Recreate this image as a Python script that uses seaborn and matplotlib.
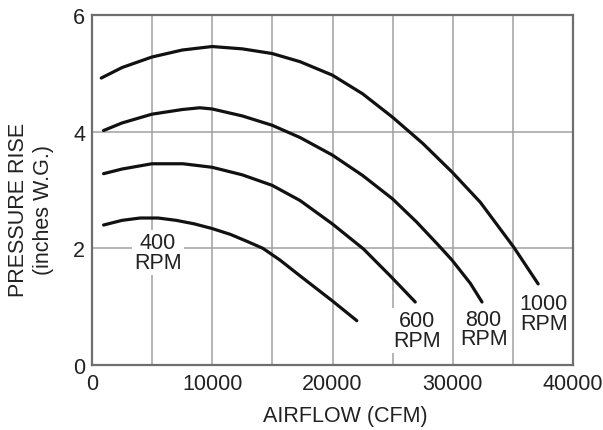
import numpy as np
import pandas as pd
import matplotlib
matplotlib.use('Agg')
import matplotlib.pyplot as plt
import seaborn as sns

# ---- fan curves (airflow CFM, pressure in. W.G.) ----
rpm_1000_x = [770, 2500, 4980, 7500, 9980, 12500, 14980, 17300, 19980, 22500,
              24980, 27500, 29930, 32290, 35070, 37100]
rpm_1000_y = [4.92, 5.10, 5.28, 5.40, 5.46, 5.42, 5.34, 5.20, 4.97, 4.65,
              4.25, 3.80, 3.31, 2.79, 2.02, 1.39]

rpm_800_x = [960, 2500, 4980, 7500, 8960, 9980, 12500, 14980, 17300, 19980,
             22500, 24980, 27000, 28960, 29930, 31460, 32430]
rpm_800_y = [4.02, 4.15, 4.30, 4.38, 4.41, 4.39, 4.27, 4.11, 3.90, 3.60,
             3.25, 2.85, 2.45, 2.02, 1.80, 1.40, 1.08]

rpm_600_x = [960, 2500, 4980, 7570, 9980, 12500, 14980, 17300, 19980, 22570,
             24790, 26880]
rpm_600_y = [3.28, 3.36, 3.45, 3.45, 3.39, 3.26, 3.08, 2.82, 2.42, 1.99,
             1.53, 1.08]

rpm_400_x = [960, 2500, 4000, 5500, 7000, 8500, 9980, 11500, 13000, 14210,
             15625, 17290, 19980, 22020]
rpm_400_y = [2.40, 2.48, 2.52, 2.52, 2.48, 2.42, 2.34, 2.24, 2.11, 2.00,
             1.80, 1.53, 1.10, 0.76]

speeds = ['400', '600', '800', '1000']
label_x = [5480, 27000, 32570, 37570]
label_y = [1.93, 0.59, 0.62, 0.88]

curves = {'400': (rpm_400_x, rpm_400_y), '600': (rpm_600_x, rpm_600_y),
          '800': (rpm_800_x, rpm_800_y), '1000': (rpm_1000_x, rpm_1000_y)}
df = pd.concat([pd.DataFrame({'airflow': x, 'pressure': y, 'rpm': k})
                for k, (x, y) in curves.items()], ignore_index=True)

sns.set_theme(style='white')
plt.rcParams['font.family'] = ['Liberation Sans', 'DejaVu Sans']

fig = plt.figure(figsize=(6.03, 4.31), dpi=100)
ax = fig.add_axes([0.1526, 0.1508, 0.7977, 0.8120])

sns.lineplot(data=df, x='airflow', y='pressure', units='rpm', estimator=None,
             sort=False, color='#111111', linewidth=2.3, ax=ax, zorder=3,
             solid_joinstyle='round', solid_capstyle='round')

for s, lx, ly in zip(speeds, label_x, label_y):
    ax.text(lx, ly, f'{s}\nRPM', ha='center', va='center', fontsize=15.5,
            color='#222222', linespacing=0.9, zorder=4,
            bbox=dict(facecolor='white', edgecolor='none', pad=1.5))

ax.set_xlim(0, 40000)
ax.set_ylim(0, 6)
ax.set_xticks(range(0, 40001, 10000))
ax.set_xticks(range(5000, 40000, 10000), minor=True)
ax.set_yticks([0, 2, 4, 6])
ax.grid(True, which='both', color='#a0a0a0', linewidth=1.1, zorder=0)
ax.set_axisbelow(True)
for sp in ax.spines.values():
    sp.set_color('#6e6e6e')
    sp.set_linewidth(1.6)
ax.tick_params(which='both', length=0, labelsize=15.5, labelcolor='#222222')
ax.tick_params(axis='x', pad=6)
ax.tick_params(axis='y', pad=5)

ax.set_xlabel('AIRFLOW (CFM)', fontsize=15.5, color='#222222')
ax.set_ylabel('PRESSURE RISE\n(inches W.G.)', fontsize=15.5, color='#222222',
              linespacing=1.25)
ax.xaxis.set_label_coords(0.526, -0.115)
ax.yaxis.set_label_coords(-0.079, 0.446)

fig.savefig('out.png', dpi=100)
